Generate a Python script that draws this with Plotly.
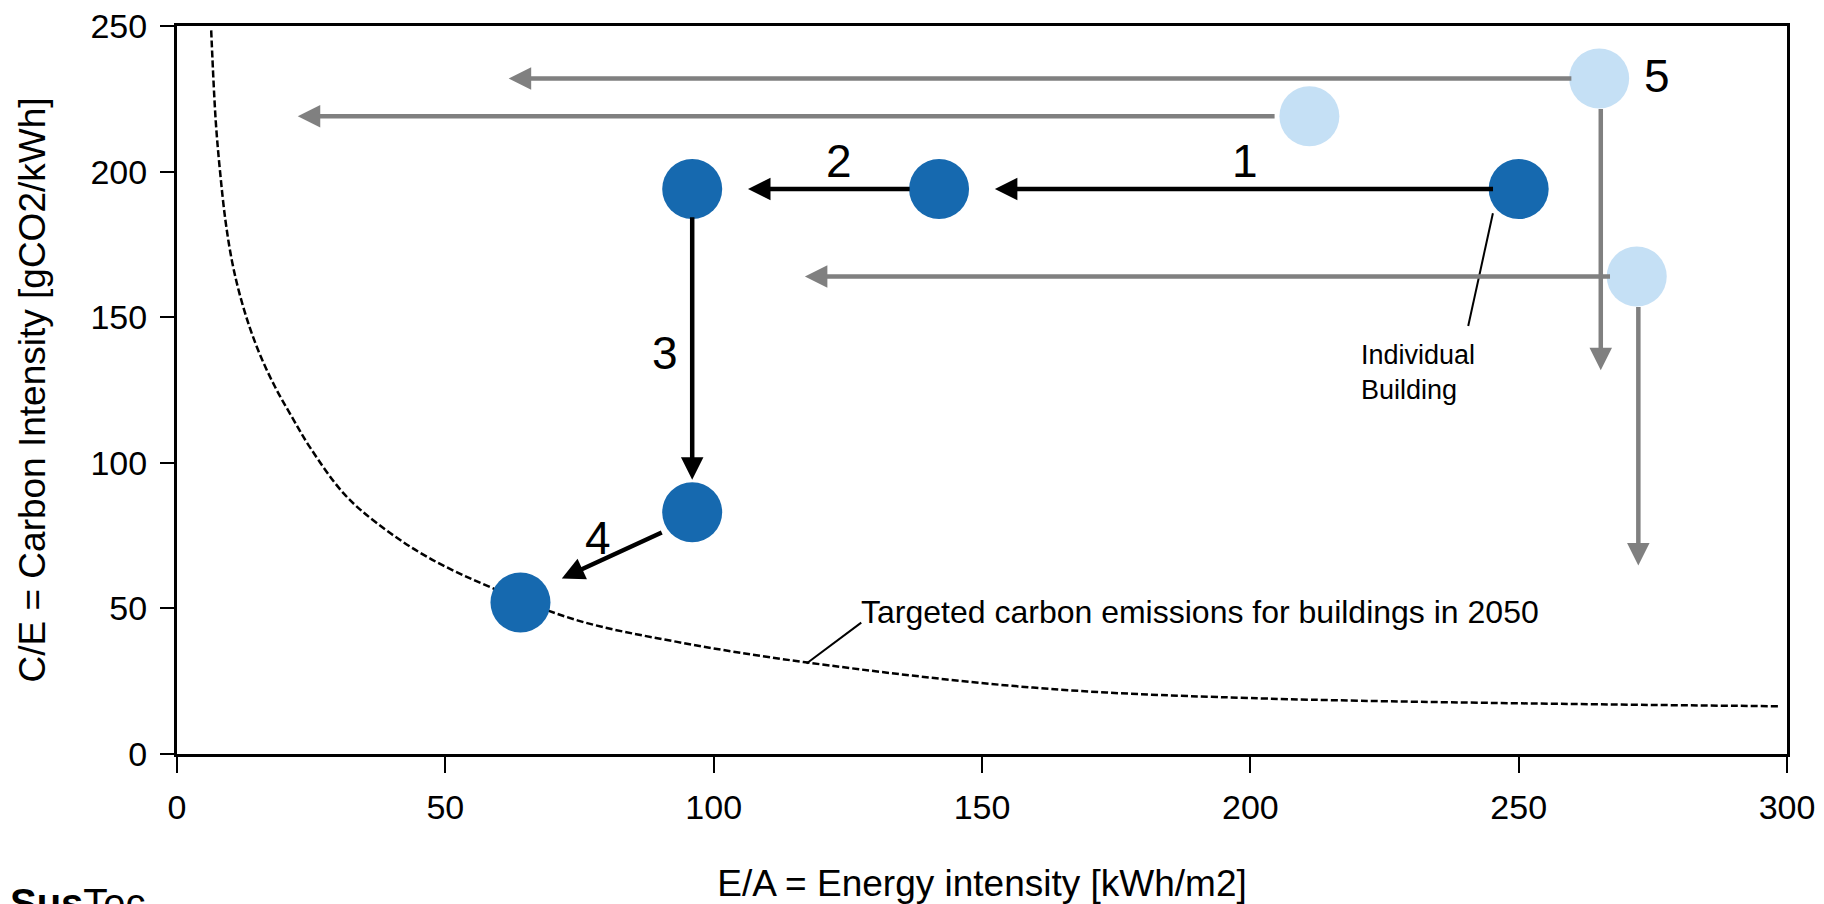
import plotly.graph_objects as go

# ---- data ----
dark_x = [250, 142, 96, 96, 64]
dark_y = [194, 194, 194, 83, 52]
light_x = [265, 211, 272]
light_y = [232, 219, 164]

curve_x = [6.37, 7.21, 8.03, 9.02, 10.21, 11.65, 13.51, 15.63, 18.26, 21.39, 24.82, 31.1,
           37.3, 46.6, 59.0, 74.6, 93.2, 116.7, 159.5, 200, 298.4]
curve_y = [248.5, 217.6, 199.9, 183.3, 169.6, 158.1, 146.7, 136.4, 126.1, 115.8, 105.2, 89.4,
           79.2, 67.7, 56.8, 45.9, 38.5, 31.6, 22.8, 19.2, 16.4]

# black arrows: tail -> head
black_tail_x = [245.5, 136.8, 96, 90.6]
black_tail_y = [194, 194, 184.8, 76.3]
black_head_x = [152.4, 106.4, 96, 71.7]
black_head_y = [194, 194, 94.2, 60.3]

gray_tail_x = [260.1, 204.8, 267.3, 265.3, 272.3]
gray_tail_y = [232, 219, 164, 222, 154]
gray_head_x = [61.8, 22.5, 117, 265.3, 272.3]
gray_head_y = [232, 219, 164, 131.8, 64.7]

step_labels = ["1", "2", "3", "4", "5"]
step_x = [199, 123.3, 91, 78.5, 275.7]
step_y = [203.7, 203.7, 137.8, 74.3, 232.8]

x_ticks = [0, 50, 100, 150, 200, 250, 300]
y_ticks = [0, 50, 100, 150, 200, 250]

FONT = "Liberation Sans, Arial, sans-serif"
DARK = "#1669AF"
LIGHT = "#C5E0F5"
GRAY = "#808080"

fig = go.Figure()
fig.add_trace(go.Scatter(x=curve_x, y=curve_y, mode="lines", line_shape="spline",
                         line=dict(color="black", width=2.5, dash="7px,3px"), hoverinfo="skip"))
fig.add_trace(go.Scatter(x=light_x, y=light_y, mode="markers",
                         marker=dict(size=60, color=LIGHT, line=dict(width=0))))
fig.add_trace(go.Scatter(x=dark_x, y=dark_y, mode="markers",
                         marker=dict(size=60, color=DARK, line=dict(width=0))))

for tx, ty, hx, hy in zip(gray_tail_x, gray_tail_y, gray_head_x, gray_head_y):
    fig.add_annotation(x=hx, y=hy, ax=tx, ay=ty, xref="x", yref="y", axref="x", ayref="y",
                       text="", showarrow=True, arrowhead=2, arrowsize=1.0, arrowwidth=4.5,
                       arrowcolor=GRAY)
for tx, ty, hx, hy in zip(black_tail_x, black_tail_y, black_head_x, black_head_y):
    fig.add_annotation(x=hx, y=hy, ax=tx, ay=ty, xref="x", yref="y", axref="x", ayref="y",
                       text="", showarrow=True, arrowhead=2, arrowsize=1.0, arrowwidth=4.5,
                       arrowcolor="black")

for t, x, y in zip(step_labels, step_x, step_y):
    fig.add_annotation(x=x, y=y, text=t, showarrow=False,
                       font=dict(family=FONT, size=46, color="black"))

# leader lines
fig.add_shape(type="line", x0=245.2, y0=185.7, x1=240.6, y1=147, xref="x", yref="y",
              line=dict(color="black", width=2))
fig.add_shape(type="line", x0=127.5, y0=45.1, x1=117.3, y1=31.1, xref="x", yref="y",
              line=dict(color="black", width=2))
fig.add_annotation(x=220.2, y=131, text="Individual<br>Building", showarrow=False,
                   xanchor="left", align="left", font=dict(family=FONT, size=27, color="black"))
fig.add_annotation(x=127, y=48.7, text="Targeted carbon emissions for buildings in 2050",
                   showarrow=False, xanchor="left", font=dict(family=FONT, size=32, color="black"))

fig.add_annotation(x=-0.105, y=-0.172, xref="paper", yref="paper", xanchor="left", yanchor="top",
                   text="<b>Sus</b>Tec", showarrow=False,
                   font=dict(family=FONT, size=40, color="black"))

axis_common = dict(showgrid=False, zeroline=False, showline=True, linecolor="black", linewidth=3,
                   mirror=True, ticks="outside", tickcolor="black", tickwidth=2,
                   ticklabeloverflow="allow",
                   tickfont=dict(family=FONT, size=34, color="black"))
fig.update_xaxes(range=[0, 300], tickvals=x_ticks, ticklen=16, ticklabelstandoff=5,
                 title=dict(text="E/A = Energy intensity [kWh/m2]", standoff=52,
                            font=dict(family=FONT, size=37, color="black")), **axis_common)
fig.update_yaxes(range=[0, 250], tickvals=y_ticks, ticklen=14, ticklabelstandoff=6,
                 title=dict(text="C/E = Carbon Intensity [gCO2/kWh]", standoff=34,
                            font=dict(family=FONT, size=37, color="black")), **axis_common)

fig.update_layout(width=1816, height=896, showlegend=False, plot_bgcolor="white",
                  paper_bgcolor="white", margin=dict(l=169, r=37, t=18, b=150, autoexpand=False),
                  font=dict(family=FONT))
fig.write_html("out.html")
